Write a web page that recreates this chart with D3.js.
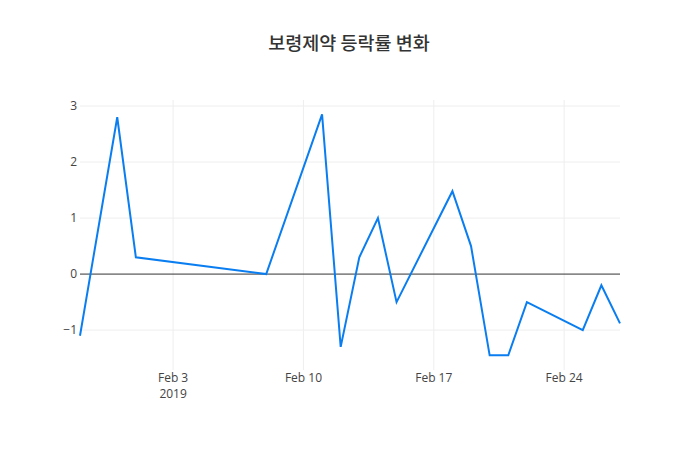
<!DOCTYPE html>
<html><head><meta charset="utf-8">
<script src="https://cdn.jsdelivr.net/npm/d3@7"></script>
<style>body{margin:0;background:#fff}</style></head>
<body><svg id="c" width="700" height="450"></svg>
<script>
const dates=["2019-01-29","2019-01-31","2019-02-01","2019-02-08","2019-02-11","2019-02-12","2019-02-13","2019-02-14","2019-02-15","2019-02-18","2019-02-19","2019-02-20","2019-02-21","2019-02-22","2019-02-25","2019-02-26","2019-02-27"];
const values=[-1.1,2.8,0.3,0.0,2.85,-1.3,0.3,1.0,-0.5,1.48,0.5,-1.45,-1.45,-0.5,-1.0,-0.2,-0.88];
const yTicks=[-1,0,1,2,3];
const xTicks=["2019-02-03","2019-02-10","2019-02-17","2019-02-24"];
const title="보령제약 등락률 변화";
const svg=d3.select("#c"), font="'Open Sans', sans-serif";
const p=d=>new Date(d+"T00:00:00Z");
const x=d3.scaleUtc().domain([p(dates[0]),p(dates[dates.length-1])]).range([80,620]);
const y=d3.scaleLinear().domain([-1.73,3.09]).range([371,101]);
svg.append("g").selectAll("line").data(xTicks).join("line")
 .attr("x1",d=>x(p(d))).attr("x2",d=>x(p(d))).attr("y1",100).attr("y2",370).attr("stroke","#eee");
svg.append("g").selectAll("line").data(yTicks.filter(v=>v!==0)).join("line")
 .attr("x1",80).attr("x2",620).attr("y1",d=>y(d)).attr("y2",d=>y(d)).attr("stroke","#eee");
svg.append("line").attr("x1",80).attr("x2",620).attr("y1",y(0)).attr("y2",y(0)).attr("stroke","#333");
svg.append("g").selectAll("text").data(yTicks).join("text")
 .attr("x",77).attr("y",d=>y(d)+4).attr("text-anchor","end").attr("font-family",font).attr("font-size",12).attr("fill","#444")
 .text(d=>d<0?"−"+Math.abs(d):d);
svg.append("g").selectAll("text").data(xTicks).join("text")
 .attr("x",d=>x(p(d))).attr("y",382).attr("text-anchor","middle").attr("font-family",font).attr("font-size",12).attr("fill","#444")
 .text(d=>d3.utcFormat("%b %-d")(p(d)));
svg.append("text").attr("x",x(p(xTicks[0]))).attr("y",398).attr("text-anchor","middle").attr("font-family",font).attr("font-size",12).attr("fill","#444").text("2019");
svg.append("path").datum(dates.map((d,i)=>[p(d),values[i]]))
 .attr("d",d3.line().x(d=>x(d[0])).y(d=>y(d[1]))).attr("fill","none").attr("stroke","#0a7ef0").attr("stroke-width",2);
svg.append("text").attr("x",349).attr("y",50).attr("text-anchor","middle").attr("font-family","'Noto Sans CJK KR', sans-serif").attr("font-size",18.5).attr("font-weight",500).attr("fill","#333").text(title);
</script></body></html>
